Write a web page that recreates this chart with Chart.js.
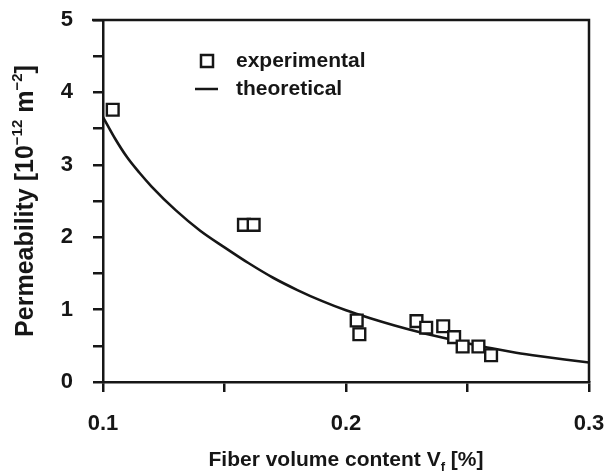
<!DOCTYPE html>
<html>
<head>
<meta charset="utf-8">
<script src="https://cdn.jsdelivr.net/npm/chart.js@4/dist/chart.umd.min.js"></script>
<style>
  body { margin: 0; background: #fff; }
  canvas { display: block; }
</style>
</head>
<body>
<canvas id="chart" width="609" height="473"></canvas>
<script>
// experimental points (fiber volume content, permeability)
const expX = [0.104, 0.158, 0.162, 0.2044, 0.2055, 0.229, 0.233, 0.240, 0.2445, 0.248, 0.2545, 0.2597];
const expY = [3.76, 2.17, 2.17, 0.85, 0.66, 0.84, 0.75, 0.77, 0.62, 0.49, 0.49, 0.37];

// theoretical curve
const theoX = [0.100, 0.105, 0.110, 0.115, 0.120, 0.130, 0.140, 0.150, 0.160, 0.170, 0.180, 0.190,
               0.200, 0.210, 0.220, 0.230, 0.240, 0.250, 0.260, 0.270, 0.280, 0.290, 0.300];
const theoY = [3.66, 3.36, 3.10, 2.89, 2.70, 2.37, 2.09, 1.86, 1.64, 1.44, 1.27, 1.12,
               0.99, 0.88, 0.78, 0.69, 0.61, 0.535, 0.465, 0.405, 0.355, 0.31, 0.27];

const xTicks = [0.1, 0.2, 0.3];
const yTicks = [0, 1, 2, 3, 4, 5];

const legendLabels = ['experimental', 'theoretical'];
const xTitle = ['Fiber volume content V', 'f', ' [%]'];
const yTitle = ['Permeability [10', '\u221212', ' m', '\u22122', ']'];

const ink = '#161616';
const fontFamily = '"Liberation Sans", Arial, sans-serif';

function toPoints(xs, ys) {
  return xs.map((x, i) => ({ x: x, y: ys[i] }));
}

// draws a list of text pieces, odd ones raised or lowered
function drawPieces(ctx, pieces, size, smallSize, shift, x, y) {
  let total = 0;
  pieces.forEach((p, i) => {
    ctx.font = `bold ${i % 2 ? smallSize : size}px ${fontFamily}`;
    total += ctx.measureText(p).width;
  });
  let posX = x - total / 2;
  pieces.forEach((p, i) => {
    ctx.font = `bold ${i % 2 ? smallSize : size}px ${fontFamily}`;
    ctx.fillText(p, posX, y + (i % 2 ? shift : 0));
    posX += ctx.measureText(p).width;
  });
}

const decorations = {
  id: 'decorations',
  afterDraw(chart) {
    const ctx = chart.ctx;
    const area = chart.chartArea;
    ctx.save();
    ctx.strokeStyle = ink;
    ctx.fillStyle = ink;

    // top and right border of the frame
    ctx.lineWidth = 2.5;
    ctx.beginPath();
    ctx.moveTo(area.left - 11, area.top);
    ctx.lineTo(area.right, area.top);
    ctx.lineTo(area.right, area.bottom);
    ctx.stroke();

    // legend
    ctx.lineWidth = 2.5;
    ctx.strokeRect(201, 55, 12, 12);
    ctx.beginPath();
    ctx.moveTo(195, 89);
    ctx.lineTo(218, 89);
    ctx.stroke();
    ctx.font = `bold 21px ${fontFamily}`;
    ctx.textAlign = 'left';
    ctx.textBaseline = 'alphabetic';
    ctx.fillText(legendLabels[0], 236, 67);
    ctx.fillText(legendLabels[1], 236, 95);

    // x axis title
    drawPieces(ctx, xTitle, 21, 13, 5, (area.left + area.right) / 2, 466);

    // y axis title
    ctx.translate(33, (area.top + area.bottom) / 2);
    ctx.rotate(-Math.PI / 2);
    drawPieces(ctx, yTitle, 25, 15, -11, 0, 0);
    ctx.restore();
  }
};

new Chart(document.getElementById('chart'), {
  type: 'scatter',
  data: {
    datasets: [
      {
        label: legendLabels[0],
        data: toPoints(expX, expY),
        pointStyle: 'rect',
        pointRadius: 8.3,
        pointBorderWidth: 2.4,
        borderColor: ink,
        backgroundColor: '#ffffff',
        showLine: false,
        order: 0
      },
      {
        label: legendLabels[1],
        data: toPoints(theoX, theoY),
        showLine: true,
        pointRadius: 0,
        borderWidth: 2.6,
        borderColor: ink,
        cubicInterpolationMode: 'monotone',
        order: 1
      }
    ]
  },
  plugins: [decorations],
  options: {
    responsive: false,
    animation: false,
    layout: { padding: { top: 20, right: 20, left: 0, bottom: 0 } },
    plugins: {
      legend: { display: false },
      tooltip: { enabled: false }
    },
    scales: {
      x: {
        type: 'linear',
        min: 0.1,
        max: 0.3,
        afterFit: (scale) => {
          scale.height = 91;
          scale.paddingLeft = 0;
          scale.paddingRight = 0;
        },
        border: { display: true, color: ink, width: 2.5 },
        grid: { drawOnChartArea: false, drawTicks: true, tickLength: 10, color: ink, lineWidth: 2.5 },
        ticks: {
          stepSize: 0.05,
          padding: 19,
          color: ink,
          font: { family: fontFamily, size: 22, weight: 'bold' },
          callback: (value) => {
            const hit = xTicks.find(t => Math.abs(t - value) < 1e-6);
            return hit !== undefined ? hit.toFixed(1) : '';
          }
        }
      },
      y: {
        type: 'linear',
        min: 0,
        max: 5,
        afterFit: (scale) => {
          scale.width = 103;
          scale.paddingTop = 0;
          scale.paddingBottom = 0;
        },
        border: { display: true, color: ink, width: 2.5 },
        grid: { drawOnChartArea: false, drawTicks: true, tickLength: 10, color: ink, lineWidth: 2.5 },
        ticks: {
          stepSize: 0.5,
          padding: 20,
          color: ink,
          font: { family: fontFamily, size: 22, weight: 'bold' },
          callback: (value) => yTicks.includes(value) ? String(value) : ''
        }
      }
    }
  }
});
</script>
</body>
</html>
